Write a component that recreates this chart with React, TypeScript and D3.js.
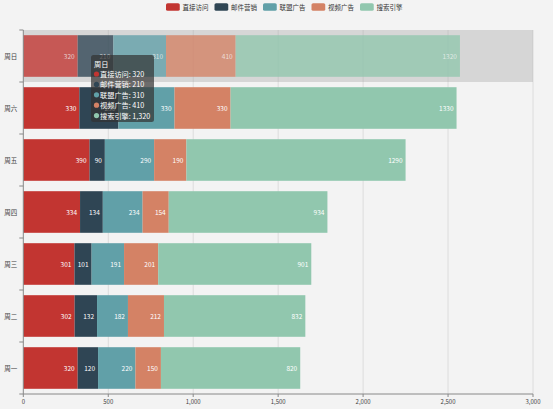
import React from "react";
import * as d3 from "d3";

const days = ["周一", "周二", "周三", "周四", "周五", "周六", "周日"];
const seriesNames = ["直接访问", "邮件营销", "联盟广告", "视频广告", "搜索引擎"];
const colors = ["#c23531", "#2f4554", "#61a0a8", "#d48265", "#91c7ae"];
const direct = [320, 302, 301, 334, 390, 330, 320];
const mail = [120, 132, 101, 134, 90, 230, 210];
const union = [220, 182, 191, 234, 290, 330, 310];
const video = [150, 212, 201, 154, 190, 330, 410];
const search = [820, 832, 901, 934, 1290, 1330, 1320];
const seriesValues = [direct, mail, union, video, search];
const xTicks = [0, 500, 1000, 1500, 2000, 2500, 3000];
const hovered = "周日";

const W = 553;
const H = 409;
const FONT = "'Noto Sans CJK SC', 'Noto Sans', sans-serif";

export default function App() {
  const left = 23.3, right = 533, top = 30, bottom = 394;
  const x = d3.scaleLinear().domain([0, 3000]).range([left, right]);
  const y = d3
    .scaleBand<string>()
    .domain(days.slice().reverse())
    .range([top, bottom])
    .paddingInner(0.2)
    .paddingOuter(0.1);
  const step = y.step();
  const fmt = d3.format(",");

  const stack = days.map((d, i) => {
    let acc = 0;
    return seriesValues.map((s, k) => {
      const v = s[i];
      const r = { day: d, k, v, x0: acc, x1: acc + v };
      acc += v;
      return r;
    });
  });

  const legFont = 6.5;
  const iconW = 13.75, iconH = 7.7, gapIT = 2.75, gapItems = 6;
  const textW = (s: string) => s.length * legFont;
  let lx = 166;
  const legendItems = seriesNames.map((n, i) => {
    const item = { n, i, x: lx };
    lx += iconW + gapIT + textW(n) + gapItems;
    return item;
  });

  const hIdx = days.indexOf(hovered);
  const bandTop = (y(hovered) as number) - step * 0.1;

  const tipX = 91, tipY = 55, tipW = 63, tipH = 67;
  const tipFont = 7.2;

  return (
    <div style={{ position: "fixed", left: 0, top: 0 }}>
      <svg width={W} height={H} style={{ display: "block", fontFamily: FONT }}>
        <rect x={0} y={0} width={W} height={H} fill="#f3f3f3" />

        {legendItems.map((it) => (
          <g key={it.n}>
            <rect x={it.x} y={7 - iconH / 2} width={iconW} height={iconH} rx={1.7} fill={colors[it.i]} />
            <text
              x={it.x + iconW + gapIT}
              y={7}
              fontSize={legFont}
              fill="#333"
              dominantBaseline="central"
            >
              {it.n}
            </text>
          </g>
        ))}

        {xTicks.slice(1).map((t) => (
          <line key={t} x1={x(t)} x2={x(t)} y1={top} y2={bottom} stroke="#dcdcdc" strokeWidth={1} />
        ))}

        <rect x={left} y={bandTop} width={right - left} height={step} fill="#969696" fillOpacity={0.3} />

        {stack.map((row, i) => (
          <g key={days[i]} opacity={i === hIdx ? 0.78 : 1}>
            {row.map((r) => (
              <rect
                key={r.k}
                x={x(r.x0)}
                y={y(r.day)}
                width={x(r.x1) - x(r.x0)}
                height={y.bandwidth()}
                fill={colors[r.k]}
              />
            ))}
            {row.map((r) => (
              <text
                key={"l" + r.k}
                x={x(r.x1) - 3}
                y={(y(r.day) as number) + y.bandwidth() / 2}
                fontSize={6.5}
                fill="#fff"
                fillOpacity={i === hIdx ? 0.75 : 1}
                textAnchor="end"
                dominantBaseline="central"
              >
                {r.v}
              </text>
            ))}
          </g>
        ))}

        <line x1={left} x2={left} y1={top} y2={bottom} stroke="#888" strokeWidth={1} />
        {d3.range(days.length + 1).map((j) => (
          <line
            key={j}
            x1={left - 4}
            x2={left}
            y1={top + j * step}
            y2={top + j * step}
            stroke="#888"
            strokeWidth={1}
          />
        ))}
        {days.map((d) => (
          <text
            key={d}
            x={left - 6}
            y={(y(d) as number) + y.bandwidth() / 2}
            fontSize={6.5}
            fill="#444"
            textAnchor="end"
            dominantBaseline="central"
          >
            {d}
          </text>
        ))}

        <line x1={left} x2={right} y1={bottom} y2={bottom} stroke="#888" strokeWidth={1} />
        {xTicks.map((t) => (
          <g key={t}>
            <line x1={x(t)} x2={x(t)} y1={bottom} y2={bottom + 3} stroke="#888" strokeWidth={1} />
            <text
              x={x(t)}
              y={bottom + 7}
              fontSize={6}
              fill="#444"
              textAnchor="middle"
              dominantBaseline="central"
            >
              {fmt(t)}
            </text>
          </g>
        ))}

        <g>
          <rect x={tipX} y={tipY} width={tipW} height={tipH} rx={2.5} fill="#323232" fillOpacity={0.7} />
          <text x={tipX + 3} y={tipY + 8.5} fontSize={tipFont} fill="#fff" dominantBaseline="central">
            {hovered}
          </text>
          {seriesNames.map((n, k) => {
            const cy = tipY + 19 + k * 10.4;
            return (
              <g key={n}>
                <circle cx={tipX + 5.5} cy={cy} r={2.6} fill={colors[k]} />
                <text x={tipX + 9} y={cy} fontSize={tipFont} fill="#fff" dominantBaseline="central">
                  {n + ": " + fmt(seriesValues[k][hIdx])}
                </text>
              </g>
            );
          })}
        </g>
      </svg>
    </div>
  );
}
